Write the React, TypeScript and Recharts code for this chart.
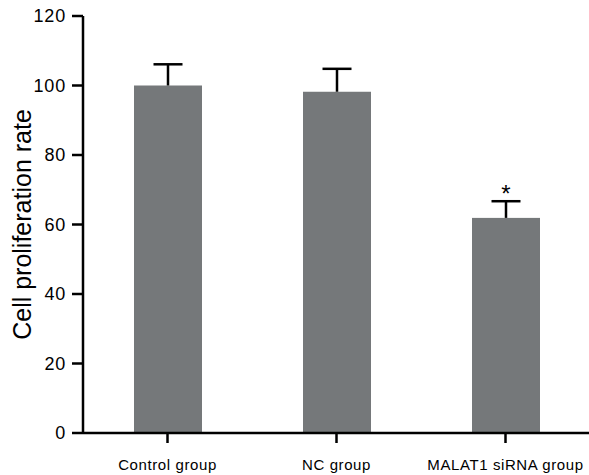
import { Bar, BarChart, XAxis, YAxis } from "recharts"

const groups = ["Control group", "NC group", "MALAT1 siRNA group"]
const rates = [100, 98.2, 61.9]
const errors = [6.1, 6.6, 4.8]
const marks = ["", "", "*"]
const yTicks = [0, 20, 40, 60, 80, 100, 120]
const yLabel = "Cell proliferation rate"

const FONT = "'Liberation Sans', Arial, Helvetica, sans-serif"
const BAR_FILL = "#75787a"

const data = groups.map((group, i) => ({
  group,
  rate: rates[i],
  err: errors[i],
  mark: marks[i],
}))

function BarWithError(props: any) {
  const { x, y, width, height, payload } = props
  const pxPerUnit = height / payload.rate
  const cx = x + width / 2
  const errTop = y - payload.err * pxPerUnit
  return (
    <g>
      <rect x={x} y={y} width={width} height={height} fill={BAR_FILL} />
      <line x1={cx} y1={y} x2={cx} y2={errTop} stroke="#000" strokeWidth={2.5} />
      <line x1={cx - 14.5} y1={errTop} x2={cx + 14.5} y2={errTop} stroke="#000" strokeWidth={2.5} />
      {payload.mark ? (
        <text x={cx} y={errTop + 1} textAnchor="middle" fontSize={24} fontFamily={FONT} fill="#000">
          {payload.mark}
        </text>
      ) : null}
    </g>
  )
}

function YLabel(props: any) {
  const { viewBox } = props
  const cy = viewBox.y + viewBox.height / 2
  const cx = 22
  return (
    <text
      x={cx}
      y={cy}
      transform={`rotate(-90, ${cx}, ${cy})`}
      textAnchor="middle"
      dominantBaseline="central"
      fontSize={25}
      fontFamily={FONT}
      fill="#000"
    >
      {yLabel}
    </text>
  )
}

export default function App() {
  return (
    <div style={{ position: "absolute", left: 0, top: 0, width: 589, height: 475, overflow: "hidden", background: "#fff" }}>
      <BarChart
        width={600}
        height={475}
        data={data}
        margin={{ top: 16, right: 10, bottom: 0, left: 0 }}
        barCategoryGap={0}
      >
        <XAxis
          dataKey="group"
          height={42}
          tickSize={10}
          tickMargin={16}
          axisLine={{ stroke: "#000", strokeWidth: 2.5 }}
          tickLine={{ stroke: "#000", strokeWidth: 2.5 }}
          tick={{ fill: "#000", fontSize: 15, fontFamily: FONT, letterSpacing: 0.6 }}
          interval={0}
        />
        <YAxis
          width={83}
          domain={[0, 120]}
          ticks={yTicks}
          tickSize={11}
          tickMargin={6}
          axisLine={{ stroke: "#000", strokeWidth: 2.5 }}
          tickLine={{ stroke: "#000", strokeWidth: 2.5 }}
          tick={{ fill: "#000", fontSize: 18, fontFamily: FONT, letterSpacing: 0.8 }}
          label={<YLabel />}
        />
        <Bar dataKey="rate" barSize={68} shape={<BarWithError />} isAnimationActive={false} />
      </BarChart>
    </div>
  )
}
